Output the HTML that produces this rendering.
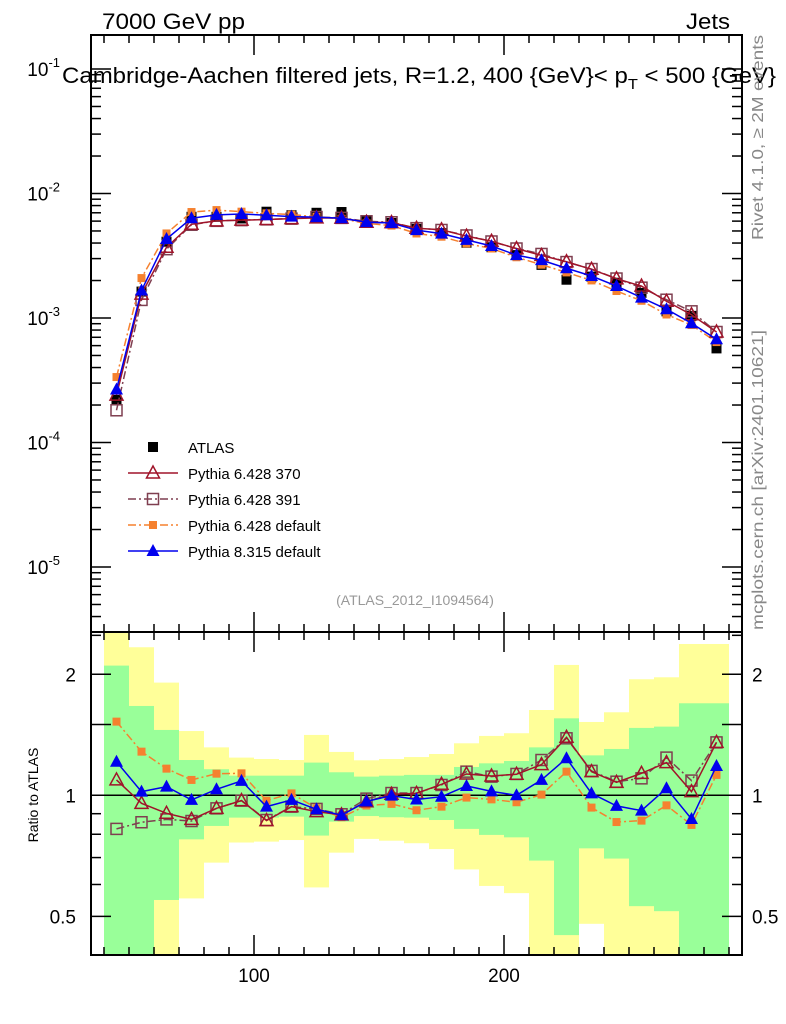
<!DOCTYPE html>
<html><head><meta charset="utf-8"><style>
body{margin:0;background:#fff;}
svg{display:block;font-family:"Liberation Sans",sans-serif;}
</style></head><body>
<svg id="c" width="786" height="1024" viewBox="0 0 786 1024">
<g id="bands"></g>
<g id="axes"></g>
<g id="series"></g>
<text x="102" y="29" font-size="22" textLength="143" lengthAdjust="spacingAndGlyphs">7000 GeV pp</text>
<text x="686" y="29" font-size="22" textLength="44" lengthAdjust="spacingAndGlyphs">Jets</text>
<text x="62" y="83" font-size="22" textLength="714" lengthAdjust="spacingAndGlyphs">Cambridge-Aachen filtered jets, R=1.2, 400 {GeV}&lt; p<tspan font-size="15" dy="6">T</tspan><tspan dy="-6"> &lt; 500 {GeV}</tspan></text>
<text x="415" y="605" font-size="14" fill="#999" text-anchor="middle">(ATLAS_2012_I1094564)</text>
<text transform="translate(763,240) rotate(-90)" font-size="16" fill="#888" textLength="205" lengthAdjust="spacingAndGlyphs">Rivet 4.1.0, ≥ 2M events</text>
<text transform="translate(763,630) rotate(-90)" font-size="16" fill="#888" textLength="300" lengthAdjust="spacingAndGlyphs">mcplots.cern.ch [arXiv:2401.10621]</text>
<text transform="translate(38,795) rotate(-90)" font-size="14" text-anchor="middle">Ratio to ATLAS</text>
<g id="legend"></g>
</svg>
<script>
const bins=[45,55,65,75,85,95,105,115,125,135,145,155,165,175,185,195,205,215,225,235,245,255,265,275,285];
const atlas=[2.2e-4,1.63e-3,4.1e-3,6.5e-3,6.5e-3,6.3e-3,7.14e-3,6.7e-3,7.0e-3,7.1e-3,6.1e-3,5.8e-3,5.2e-3,4.8e-3,4.02e-3,3.7e-3,3.2e-3,2.67e-3,2.03e-3,2.15e-3,1.92e-3,1.59e-3,1.13e-3,1.04e-3,5.7e-4];
const ratio370=[1.092,0.955,0.902,0.871,0.928,0.970,0.865,0.937,0.911,0.894,0.964,1.006,1.011,1.065,1.130,1.117,1.128,1.192,1.394,1.145,1.077,1.134,1.206,1.021,1.354];
const ratio391=[0.825,0.857,0.871,0.863,0.928,0.970,0.868,0.937,0.925,0.897,0.981,1.013,1.013,1.061,1.145,1.113,1.130,1.224,1.386,1.150,1.081,1.102,1.241,1.088,1.354];
const ratioDef6=[1.525,1.284,1.165,1.092,1.132,1.134,0.970,1.011,0.928,0.882,0.943,0.952,0.918,0.937,0.987,0.977,0.961,1.004,1.145,0.932,0.858,0.865,0.944,0.844,1.124];
const ratioP8=[1.212,1.021,1.051,0.974,1.035,1.086,0.937,0.974,0.923,0.892,0.966,0.998,0.976,0.992,1.055,1.023,1.0,1.092,1.236,1.011,0.941,0.916,1.041,0.873,1.183];
const yelHi=[2.8,2.335,1.907,1.445,1.316,1.241,1.231,1.224,1.413,1.282,1.222,1.231,1.245,1.267,1.347,1.405,1.427,1.630,2.110,1.522,1.609,1.944,1.966,2.379,2.379];
const yelLo=[0.3,0.3,0.3,0.554,0.680,0.763,0.767,0.774,0.590,0.720,0.779,0.771,0.760,0.735,0.654,0.595,0.571,0.3,0.3,0.479,0.3,0.3,0.3,0.3,0.3];
const grnHi=[2.102,1.668,1.454,1.224,1.161,1.119,1.119,1.119,1.206,1.141,1.113,1.119,1.124,1.124,1.176,1.201,1.217,1.316,1.554,1.257,1.304,1.471,1.482,1.694,1.694];
const grnLo=[0.3,0.3,0.549,0.777,0.839,0.880,0.880,0.885,0.794,0.860,0.888,0.882,0.880,0.868,0.825,0.797,0.786,0.688,0.449,0.738,0.696,0.530,0.515,0.3,0.3];
const xTicks=[100,200];
const mainTicks=[-5,-4,-3,-2,-1];
const ratioTicks=[0.5,1,2];

const NS="http://www.w3.org/2000/svg";
const L=91,R=742,T=35,M=632,B=955,BW=10;
const X=v=>4+2.5*v;
const Y=v=>193.5-124.5*(Math.log10(v)+2);
const RY=r=>Math.max(M,Math.min(B,795.3-402*Math.log10(r)));
function mk(p,tag,a){const e=document.createElementNS(NS,tag);for(const k in a)e.setAttribute(k,a[k]);p.appendChild(e);return e;}
const gB=document.getElementById('bands'),gA=document.getElementById('axes'),gS=document.getElementById('series'),gL=document.getElementById('legend');

bins.forEach((b,i)=>{
 const x0=Math.max(L,X(b-BW/2)),x1=Math.min(R,X(b+BW/2));
 const y=mk(gB,'rect',{x:x0,y:RY(yelHi[i]),width:x1-x0,height:RY(yelLo[i])-RY(yelHi[i]),fill:'#ffff99'});
 
 
 const g=mk(gB,'rect',{x:x0,y:RY(grnHi[i]),width:x1-x0,height:RY(grnLo[i])-RY(grnHi[i]),fill:'#99ff99'});
 
 
});

const f1=mk(gA,'rect',{x:L,y:T,width:R-L,height:M-T,fill:'none',stroke:'#000','stroke-width':2});


const f2=mk(gA,'rect',{x:L,y:M,width:R-L,height:B-M,fill:'none',stroke:'#000','stroke-width':2});


mk(gA,'line',{x1:L,x2:R,y1:795.3,y2:795.3,stroke:'#000','stroke-width':1.5});
for(let v=40;v<=290;v+=10){
 const maj=xTicks.includes(v),len=maj?20:8,x=X(v);
 [[M,-1],[T,1],[B,-1],[M,1]].forEach(([y0,d])=>mk(gA,'line',{x1:x,x2:x,y1:y0,y2:y0+d*len,stroke:'#000','stroke-width':1.5}));
}
xTicks.forEach(v=>{const t=mk(gA,'text',{x:X(v),y:982,'font-size':19,'text-anchor':'middle'});t.textContent=v;
 
 });
for(let d=-6;d<=-1;d++){for(let m=1;m<10;m++){const v=m*Math.pow(10,d),y=Y(v);if(y<T||y>M)continue;const len=m==1?20:10;
 mk(gA,'line',{x1:L,x2:L+len,y1:y,y2:y,stroke:'#000','stroke-width':1.5});mk(gA,'line',{x1:R,x2:R-len,y1:y,y2:y,stroke:'#000','stroke-width':1.5});}}
mainTicks.forEach(d=>{const y=Y(Math.pow(10,d));const t=mk(gA,'text',{x:60,y:y+7,'font-size':19,'text-anchor':'end'});
 t.innerHTML='10<tspan font-size="13" dy="-9">'+d+'</tspan>';
 
 });
[0.4,0.5,0.6,0.7,0.8,0.9,1,1.5,2,2.5].forEach(r=>{const y=RY(r);const maj=[0.5,1,1.5,2].includes(r);const len=maj?20:10;
 mk(gA,'line',{x1:L,x2:L+len,y1:y,y2:y,stroke:'#000','stroke-width':1.5});mk(gA,'line',{x1:R,x2:R-len,y1:y,y2:y,stroke:'#000','stroke-width':1.5});});
ratioTicks.forEach(r=>{const y=RY(r)+7;
 const t=mk(gA,'text',{x:76,y:y,'font-size':19,'text-anchor':'end'});t.textContent=r;
 
 
 const t2=mk(gA,'text',{x:752,y:y,'font-size':19});t2.textContent=r;
 
 });

function marker(p,type,x,y,col){
 if(type=='sq')return mk(p,'rect',{x:x-5,y:y-5,width:10,height:10,fill:col});
 if(type=='osq')return mk(p,'rect',{x:x-5.5,y:y-5.5,width:11,height:11,fill:'none',stroke:col,'stroke-width':1.5});
 if(type=='fsq')return mk(p,'rect',{x:x-4,y:y-4,width:8,height:8,fill:col});
 if(type=='otri')return mk(p,'path',{d:`M${x},${y-7}L${x+6.5},${y+5}L${x-6.5},${y+5}Z`,fill:'none',stroke:col,'stroke-width':1.5});
 if(type=='ftri')return mk(p,'path',{d:`M${x},${y-7}L${x+6.5},${y+5}L${x-6.5},${y+5}Z`,fill:col});
}
const series=[
 {name:'pythia-6428-391',r:ratio391,col:'#7f3f50',m:'osq',dash:'8,3,2,3'},
 {name:'pythia-6428-default',r:ratioDef6,col:'#f5812f',m:'fsq',dash:'8,3,2,3'},
 {name:'pythia-6428-370',r:ratio370,col:'#a0142a',m:'otri',dash:''},
 {name:'pythia-8315-default',r:ratioP8,col:'#0000ee',m:'ftri',dash:''}];
atlas.forEach((v,i)=>{const e=marker(gS,'sq',X(bins[i]),Y(v),'#000');
 
 });
series.forEach(s=>{
 const g=mk(gS,'g',{});
 
 
 const pm=bins.map((b,i)=>X(b)+','+Y(atlas[i]*s.r[i])).join(' ');
 mk(g,'polyline',{points:pm,fill:'none',stroke:s.col,'stroke-width':1.5,'stroke-dasharray':s.dash});
 const pr=bins.map((b,i)=>X(b)+','+RY(s.r[i])).join(' ');
 mk(g,'polyline',{points:pr,fill:'none',stroke:s.col,'stroke-width':1.5,'stroke-dasharray':s.dash});
 bins.forEach((b,i)=>{
  const e=marker(g,s.m,X(b),Y(atlas[i]*s.r[i]),s.col);
  
  
  const e2=marker(g,s.m,X(b),RY(s.r[i]),s.col);
  
  
 });
});
const leg=[['ATLAS','sq','#000',''],['Pythia 6.428 370','otri','#a0142a',''],['Pythia 6.428 391','osq','#7f3f50','8,3,2,3'],['Pythia 6.428 default','fsq','#f5812f','8,3,2,3'],['Pythia 8.315 default','ftri','#0000ee','']];
leg.forEach((l,i)=>{const y=447+i*26;
 const g=mk(gL,'g',{});
 
 
 if(i>0)mk(g,'line',{x1:128,x2:178,y1:y,y2:y,stroke:l[2],'stroke-width':1.5,'stroke-dasharray':l[3]});
 marker(g,l[1],153,y,l[2]);
 const t=mk(g,'text',{x:188,y:y+6,'font-size':15});t.textContent=l[0];});
</script>
</body></html>
